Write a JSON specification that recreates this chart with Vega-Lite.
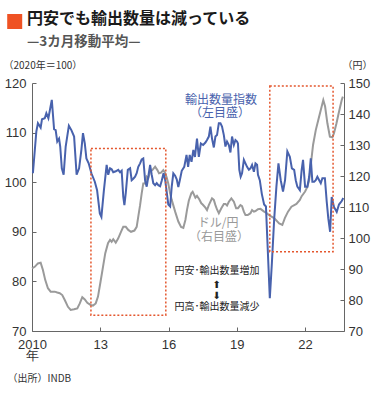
{
  "$schema": "https://vega.github.io/schema/vega-lite/v6.json",
  "width": 312,
  "height": 248,
  "autosize": "none",
  "padding": {"left": 32, "top": 83, "right": 31, "bottom": 63},
  "background": "white",
  "title": {
    "text": "円安でも輸出数量は減っている",
    "subtitle": "—3カ月移動平均—",
    "anchor": "start",
    "frame": "group",
    "dx": -5,
    "font": "Noto Sans CJK JP",
    "fontSize": 16,
    "fontWeight": "bold",
    "color": "#1a1a1a",
    "subtitleFont": "Noto Sans CJK JP",
    "subtitleFontSize": 13.5,
    "subtitleFontWeight": "bold",
    "subtitleColor": "#555",
    "subtitlePadding": 8,
    "offset": -35
  },
  "datasets": {
    "exports": [
      {"year": 2010.04, "v": 101.8}, {"year": 2010.19, "v": 110.2}, {"year": 2010.26, "v": 111.9}, {"year": 2010.38, "v": 111.0},
      {"year": 2010.44, "v": 112.7}, {"year": 2010.56, "v": 112.9}, {"year": 2010.63, "v": 113.9}, {"year": 2010.72, "v": 112.9},
      {"year": 2010.87, "v": 116.6}, {"year": 2010.97, "v": 110.7}, {"year": 2011.04, "v": 110.5}, {"year": 2011.11, "v": 108.2},
      {"year": 2011.19, "v": 108.8}, {"year": 2011.24, "v": 107.2}, {"year": 2011.31, "v": 102.8}, {"year": 2011.39, "v": 101.5},
      {"year": 2011.48, "v": 107.2}, {"year": 2011.62, "v": 111.4}, {"year": 2011.73, "v": 110.5}, {"year": 2011.85, "v": 109.2},
      {"year": 2011.96, "v": 101.5}, {"year": 2012.07, "v": 102.8}, {"year": 2012.17, "v": 106.5}, {"year": 2012.24, "v": 109.9},
      {"year": 2012.32, "v": 107.8}, {"year": 2012.39, "v": 104.8}, {"year": 2012.49, "v": 103.8}, {"year": 2012.61, "v": 101.8},
      {"year": 2012.76, "v": 100.1}, {"year": 2012.86, "v": 98.4}, {"year": 2012.98, "v": 93.7}, {"year": 2013.05, "v": 93.0},
      {"year": 2013.16, "v": 98.4}, {"year": 2013.28, "v": 103.5}, {"year": 2013.35, "v": 101.5}, {"year": 2013.43, "v": 102.8},
      {"year": 2013.50, "v": 102.6}, {"year": 2013.57, "v": 102.0}, {"year": 2013.68, "v": 102.2}, {"year": 2013.79, "v": 102.5},
      {"year": 2013.87, "v": 102.0}, {"year": 2013.94, "v": 102.3}, {"year": 2014.01, "v": 97.1}, {"year": 2014.06, "v": 95.4},
      {"year": 2014.12, "v": 97.8}, {"year": 2014.21, "v": 102.5}, {"year": 2014.31, "v": 102.8}, {"year": 2014.38, "v": 100.4},
      {"year": 2014.45, "v": 100.7}, {"year": 2014.53, "v": 101.1}, {"year": 2014.60, "v": 101.8}, {"year": 2014.67, "v": 103.1},
      {"year": 2014.75, "v": 103.8}, {"year": 2014.82, "v": 104.6}, {"year": 2014.89, "v": 104.8}, {"year": 2014.97, "v": 100.4},
      {"year": 2015.04, "v": 99.1}, {"year": 2015.11, "v": 101.1}, {"year": 2015.19, "v": 103.5}, {"year": 2015.26, "v": 101.5},
      {"year": 2015.33, "v": 99.8}, {"year": 2015.41, "v": 99.4}, {"year": 2015.48, "v": 99.8}, {"year": 2015.55, "v": 99.4},
      {"year": 2015.63, "v": 99.2}, {"year": 2015.70, "v": 100.3}, {"year": 2015.78, "v": 101.8}, {"year": 2015.85, "v": 100.5},
      {"year": 2015.99, "v": 95.5}, {"year": 2016.07, "v": 95.1}, {"year": 2016.14, "v": 99.1}, {"year": 2016.21, "v": 101.8},
      {"year": 2016.29, "v": 101.3}, {"year": 2016.36, "v": 100.6}, {"year": 2016.43, "v": 99.0}, {"year": 2016.50, "v": 100.5},
      {"year": 2016.58, "v": 102.3}, {"year": 2016.69, "v": 103.1}, {"year": 2016.79, "v": 105.5}, {"year": 2016.86, "v": 103.1},
      {"year": 2016.93, "v": 105.5}, {"year": 2017.01, "v": 104.1}, {"year": 2017.09, "v": 106.5}, {"year": 2017.16, "v": 105.1},
      {"year": 2017.25, "v": 108.8}, {"year": 2017.33, "v": 105.1}, {"year": 2017.42, "v": 107.8}, {"year": 2017.52, "v": 107.5},
      {"year": 2017.62, "v": 108.0}, {"year": 2017.69, "v": 108.5}, {"year": 2017.77, "v": 109.2}, {"year": 2017.84, "v": 111.2},
      {"year": 2017.91, "v": 108.8}, {"year": 2017.99, "v": 107.0}, {"year": 2018.06, "v": 109.2}, {"year": 2018.13, "v": 109.5},
      {"year": 2018.21, "v": 111.9}, {"year": 2018.28, "v": 111.9}, {"year": 2018.35, "v": 111.2}, {"year": 2018.43, "v": 109.5},
      {"year": 2018.50, "v": 107.2}, {"year": 2018.57, "v": 108.2}, {"year": 2018.65, "v": 107.5}, {"year": 2018.72, "v": 106.0},
      {"year": 2018.79, "v": 109.2}, {"year": 2018.87, "v": 107.5}, {"year": 2018.94, "v": 108.5}, {"year": 2019.01, "v": 108.2},
      {"year": 2019.05, "v": 107.8}, {"year": 2019.11, "v": 102.5}, {"year": 2019.17, "v": 101.1}, {"year": 2019.23, "v": 101.8},
      {"year": 2019.31, "v": 104.5}, {"year": 2019.38, "v": 103.8}, {"year": 2019.45, "v": 103.1}, {"year": 2019.53, "v": 102.5},
      {"year": 2019.60, "v": 102.8}, {"year": 2019.67, "v": 103.5}, {"year": 2019.75, "v": 102.1}, {"year": 2019.82, "v": 103.8},
      {"year": 2019.89, "v": 103.5}, {"year": 2019.93, "v": 101.5}, {"year": 2020.01, "v": 100.4}, {"year": 2020.10, "v": 97.6},
      {"year": 2020.20, "v": 95.5}, {"year": 2020.28, "v": 95.1}, {"year": 2020.45, "v": 76.6}, {"year": 2020.54, "v": 83.6},
      {"year": 2020.64, "v": 92.4}, {"year": 2020.74, "v": 99.1}, {"year": 2020.83, "v": 103.8}, {"year": 2020.93, "v": 100.4},
      {"year": 2021.03, "v": 98.1}, {"year": 2021.12, "v": 100.4}, {"year": 2021.22, "v": 106.2}, {"year": 2021.33, "v": 105.1},
      {"year": 2021.42, "v": 102.8}, {"year": 2021.52, "v": 102.5}, {"year": 2021.59, "v": 100.4}, {"year": 2021.66, "v": 99.1},
      {"year": 2021.77, "v": 98.4}, {"year": 2021.85, "v": 102.5}, {"year": 2021.91, "v": 104.5}, {"year": 2022.00, "v": 99.1},
      {"year": 2022.10, "v": 99.1}, {"year": 2022.18, "v": 101.1}, {"year": 2022.25, "v": 104.8}, {"year": 2022.32, "v": 100.1},
      {"year": 2022.40, "v": 100.1}, {"year": 2022.47, "v": 100.4}, {"year": 2022.54, "v": 101.1}, {"year": 2022.62, "v": 100.4},
      {"year": 2022.69, "v": 99.8}, {"year": 2022.76, "v": 100.8}, {"year": 2022.87, "v": 100.8}, {"year": 2022.95, "v": 96.1},
      {"year": 2023.02, "v": 92.7}, {"year": 2023.10, "v": 90.0}, {"year": 2023.17, "v": 97.0}, {"year": 2023.27, "v": 95.0},
      {"year": 2023.39, "v": 94.0}, {"year": 2023.49, "v": 95.5}, {"year": 2023.61, "v": 96.2}, {"year": 2023.68, "v": 96.8}
    ],
    "yen": [
      {"year": 2010.00, "v": 90.2}, {"year": 2010.12, "v": 90.7}, {"year": 2010.26, "v": 91.8}, {"year": 2010.38, "v": 92.0},
      {"year": 2010.48, "v": 89.7}, {"year": 2010.58, "v": 86.5}, {"year": 2010.70, "v": 83.8}, {"year": 2010.82, "v": 82.7},
      {"year": 2011.00, "v": 82.7}, {"year": 2011.11, "v": 82.4}, {"year": 2011.22, "v": 82.2}, {"year": 2011.33, "v": 81.6},
      {"year": 2011.44, "v": 80.0}, {"year": 2011.58, "v": 77.8}, {"year": 2011.70, "v": 76.8}, {"year": 2011.85, "v": 77.0},
      {"year": 2011.99, "v": 77.3}, {"year": 2012.10, "v": 78.9}, {"year": 2012.21, "v": 80.9}, {"year": 2012.32, "v": 80.2},
      {"year": 2012.43, "v": 79.1}, {"year": 2012.58, "v": 78.4}, {"year": 2012.68, "v": 78.2}, {"year": 2012.80, "v": 78.9},
      {"year": 2012.90, "v": 81.1}, {"year": 2013.00, "v": 85.4}, {"year": 2013.12, "v": 90.7}, {"year": 2013.22, "v": 95.1},
      {"year": 2013.34, "v": 98.3}, {"year": 2013.43, "v": 99.4}, {"year": 2013.50, "v": 98.8}, {"year": 2013.57, "v": 99.6},
      {"year": 2013.68, "v": 98.5}, {"year": 2013.79, "v": 99.9}, {"year": 2013.91, "v": 102.0}, {"year": 2014.01, "v": 103.6},
      {"year": 2014.12, "v": 103.6}, {"year": 2014.23, "v": 102.6}, {"year": 2014.35, "v": 102.0}, {"year": 2014.50, "v": 102.4},
      {"year": 2014.60, "v": 103.6}, {"year": 2014.67, "v": 106.9}, {"year": 2014.75, "v": 110.6}, {"year": 2014.82, "v": 114.4},
      {"year": 2014.89, "v": 117.6}, {"year": 2014.97, "v": 117.6}, {"year": 2015.04, "v": 119.8}, {"year": 2015.11, "v": 119.3},
      {"year": 2015.19, "v": 121.4}, {"year": 2015.29, "v": 121.9}, {"year": 2015.41, "v": 123.0}, {"year": 2015.51, "v": 121.9},
      {"year": 2015.58, "v": 120.9}, {"year": 2015.67, "v": 121.1}, {"year": 2015.77, "v": 121.9}, {"year": 2015.85, "v": 121.0},
      {"year": 2015.92, "v": 119.5}, {"year": 2015.99, "v": 117.5}, {"year": 2016.07, "v": 114.4}, {"year": 2016.14, "v": 112.3},
      {"year": 2016.29, "v": 108.5}, {"year": 2016.43, "v": 105.3}, {"year": 2016.55, "v": 103.6}, {"year": 2016.65, "v": 103.3},
      {"year": 2016.74, "v": 105.8}, {"year": 2016.81, "v": 109.0}, {"year": 2016.89, "v": 112.0}, {"year": 2017.00, "v": 114.4},
      {"year": 2017.06, "v": 114.9}, {"year": 2017.18, "v": 113.0}, {"year": 2017.25, "v": 113.6}, {"year": 2017.35, "v": 112.5},
      {"year": 2017.44, "v": 111.2}, {"year": 2017.50, "v": 110.8}, {"year": 2017.62, "v": 109.8}, {"year": 2017.69, "v": 109.0},
      {"year": 2017.77, "v": 110.6}, {"year": 2017.91, "v": 112.8}, {"year": 2017.99, "v": 112.3}, {"year": 2018.06, "v": 110.6},
      {"year": 2018.13, "v": 109.2}, {"year": 2018.21, "v": 108.0}, {"year": 2018.32, "v": 109.6}, {"year": 2018.43, "v": 111.0},
      {"year": 2018.50, "v": 111.0}, {"year": 2018.57, "v": 110.5}, {"year": 2018.65, "v": 111.7}, {"year": 2018.76, "v": 112.8},
      {"year": 2018.87, "v": 111.7}, {"year": 2018.97, "v": 109.6}, {"year": 2019.05, "v": 109.6}, {"year": 2019.16, "v": 110.6},
      {"year": 2019.23, "v": 110.3}, {"year": 2019.31, "v": 108.5}, {"year": 2019.38, "v": 107.4}, {"year": 2019.48, "v": 107.4},
      {"year": 2019.60, "v": 108.0}, {"year": 2019.67, "v": 109.0}, {"year": 2019.75, "v": 108.5}, {"year": 2019.82, "v": 108.7},
      {"year": 2019.93, "v": 109.3}, {"year": 2020.04, "v": 109.4}, {"year": 2020.20, "v": 108.5}, {"year": 2020.32, "v": 108.0},
      {"year": 2020.45, "v": 107.2}, {"year": 2020.64, "v": 106.4}, {"year": 2020.86, "v": 104.7}, {"year": 2021.00, "v": 104.2},
      {"year": 2021.11, "v": 106.4}, {"year": 2021.25, "v": 108.5}, {"year": 2021.40, "v": 110.1}, {"year": 2021.62, "v": 111.0},
      {"year": 2021.77, "v": 112.3}, {"year": 2021.85, "v": 113.5}, {"year": 2022.00, "v": 115.0}, {"year": 2022.10, "v": 116.5},
      {"year": 2022.18, "v": 118.7}, {"year": 2022.25, "v": 123.5}, {"year": 2022.35, "v": 130.0}, {"year": 2022.47, "v": 134.8},
      {"year": 2022.58, "v": 138.1}, {"year": 2022.69, "v": 141.3}, {"year": 2022.80, "v": 144.5}, {"year": 2022.88, "v": 142.4},
      {"year": 2022.98, "v": 137.0}, {"year": 2023.09, "v": 132.7}, {"year": 2023.20, "v": 132.5}, {"year": 2023.27, "v": 133.8},
      {"year": 2023.38, "v": 137.0}, {"year": 2023.49, "v": 140.7}, {"year": 2023.61, "v": 144.5}, {"year": 2023.66, "v": 145.6}
    ],
    "boxes": [
      {"x1": 2012.59, "x2": 2015.88, "y1": 73.2, "y2": 106.8},
      {"x1": 2020.45, "x2": 2023.23, "y1": 86.0, "y2": 119.4}
    ],
    "notes": [
      {"kind": "blue", "label": "輸出数量指数", "year": 2018.31, "v": 116.6},
      {"kind": "blue", "label": "（左目盛）", "year": 2018.26, "v": 113.9},
      {"kind": "gray", "label": "ドル/円", "year": 2018.18, "v": 91.7},
      {"kind": "gray", "label": "（右目盛）", "year": 2018.22, "v": 89.0},
      {"kind": "black", "label": "円安･輸出数量増加", "year": 2018.13, "v": 82.0},
      {"kind": "black", "label": "円高･輸出数量減少", "year": 2018.13, "v": 74.8},
      {"kind": "arrow", "label": "⬆", "year": 2018.12, "v": 79.3},
      {"kind": "arrow", "label": "⬇", "year": 2018.12, "v": 77.1},
      {"kind": "square", "label": "", "year": 2009.24, "v": 132.4}
    ]
  },
  "encoding": {
    "x": {
      "field": "year",
      "type": "quantitative",
      "scale": {"domain": [2010, 2023.71], "nice": false, "zero": false},
      "axis": {
        "values": [2010, 2013, 2016, 2019, 2022],
        "labelExpr": "datum.value == 2010 ? ['2010', '年'] : slice(toString(datum.value), 2)",
        "labelFlush": false,
        "labelOverlap": false,
        "labelLineHeight": 11,
        "labelPadding": 11,
        "tickSize": -4,
        "title": "（出所）INDB",
        "titleAlign": "left",
        "titleBaseline": "middle",
        "titleX": -25,
        "titleY": 47
      }
    }
  },
  "layer": [
    {
      "data": {"name": "yen"},
      "mark": {"type": "line", "color": "#9a9a9a", "strokeWidth": 2},
      "encoding": {
        "y": {
          "field": "v",
          "type": "quantitative",
          "scale": {"domain": [70, 150], "nice": false, "zero": false},
          "axis": {
            "orient": "right",
            "values": [70, 80, 90, 100, 110, 120, 130, 140, 150],
            "labelOverlap": false,
            "tickSize": -4,
            "labelPadding": 8,
            "title": "（円）",
            "titleAngle": 0,
            "titleAlign": "right",
            "titleBaseline": "middle",
            "titleX": 28,
            "titleY": -18
          }
        }
      }
    },
    {
      "layer": [
        {
          "data": {"name": "exports"},
          "mark": {"type": "line", "color": "#4862ad", "strokeWidth": 2},
          "encoding": {
            "y": {
              "field": "v",
              "type": "quantitative",
              "scale": {"domain": [70, 120], "nice": false, "zero": false},
              "axis": {
                "orient": "left",
                "values": [70, 75, 80, 85, 90, 95, 100, 105, 110, 115, 120],
                "labelOverlap": false,
                "tickSize": -4,
                "labelPadding": 10,
                "title": "（2020年＝100）",
                "titleAngle": 0,
                "titleAlign": "left",
                "titleBaseline": "middle",
                "titleX": -29,
                "titleY": -18
              }
            }
          }
        },
        {
          "data": {"name": "boxes"},
          "mark": {"type": "rect", "fill": null, "fillOpacity": 0, "stroke": "#e4572e", "strokeWidth": 1.5, "strokeDash": [2, 2]},
          "encoding": {
            "x": {"field": "x1", "type": "quantitative"},
            "x2": {"field": "x2"},
            "y": {"field": "y1", "type": "quantitative"},
            "y2": {"field": "y2"}
          }
        },
        {
          "data": {"name": "notes"},
          "transform": [{"filter": "datum.kind == 'blue'"}],
          "mark": {"type": "text", "font": "Noto Sans CJK JP", "fontSize": 12, "color": "#4862ad", "align": "center", "baseline": "middle"},
          "encoding": {"y": {"field": "v", "type": "quantitative"}, "text": {"field": "label"}}
        },
        {
          "data": {"name": "notes"},
          "transform": [{"filter": "datum.kind == 'gray'"}],
          "mark": {"type": "text", "font": "Noto Sans CJK JP", "fontSize": 12, "color": "#9a9a9a", "align": "center", "baseline": "middle"},
          "encoding": {"y": {"field": "v", "type": "quantitative"}, "text": {"field": "label"}}
        },
        {
          "data": {"name": "notes"},
          "transform": [{"filter": "datum.kind == 'black'"}],
          "mark": {"type": "text", "font": "Noto Sans CJK JP", "fontSize": 10, "color": "#222", "align": "center", "baseline": "middle"},
          "encoding": {"y": {"field": "v", "type": "quantitative"}, "text": {"field": "label"}}
        },
        {
          "data": {"name": "notes"},
          "transform": [{"filter": "datum.kind == 'arrow'"}],
          "mark": {"type": "text", "font": "DejaVu Sans", "fontSize": 10, "color": "#222", "align": "center", "baseline": "middle"},
          "encoding": {"y": {"field": "v", "type": "quantitative"}, "text": {"field": "label"}}
        },
        {
          "data": {"name": "notes"},
          "transform": [{"filter": "datum.kind == 'square'"}],
          "mark": {"type": "square", "size": 225, "color": "#ef5223", "opacity": 1, "clip": false},
          "encoding": {"y": {"field": "v", "type": "quantitative"}}
        }
      ]
    }
  ],
  "resolve": {"scale": {"y": "independent"}},
  "config": {
    "view": {"stroke": null},
    "axis": {
      "grid": false,
      "domainColor": "#666",
      "tickColor": "#666",
      "labelFont": "Liberation Sans",
      "labelFontSize": 13,
      "labelColor": "#333",
      "titleFont": "Noto Sans CJK JP",
      "titleFontSize": 10,
      "titleFontWeight": "normal",
      "titleColor": "#333"
    }
  }
}
